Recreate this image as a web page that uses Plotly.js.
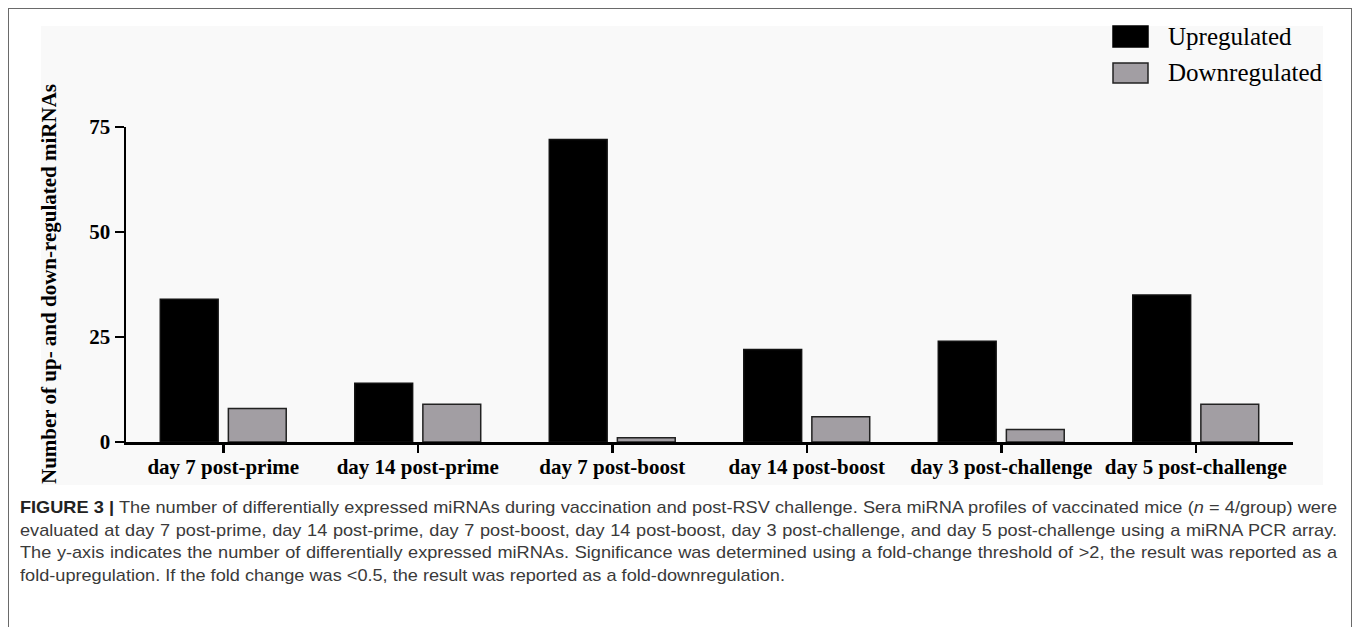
<!DOCTYPE html>
<html>
<head>
<meta charset="utf-8">
<script src="https://cdn.plot.ly/plotly-3.0.1.min.js"></script>
<style>
html,body{margin:0;padding:0;background:#ffffff;width:1357px;height:627px;overflow:hidden;}
#frame{position:absolute;left:8px;top:8px;width:1344px;height:660px;border:1.5px solid #6a6a6a;box-sizing:border-box;}
#bg{position:absolute;left:41px;top:26px;width:1282px;height:459px;background:#f9f9f9;}
#chart{position:absolute;left:20px;top:10px;width:1320px;height:480px;}
#cap{position:absolute;left:20px;top:497px;font-family:"Liberation Sans Narrow","Liberation Sans",Arial,sans-serif;font-size:17px;line-height:22.6px;color:#3a3a3a;transform-origin:0 0;}
#cap .j{text-align:justify;text-align-last:justify;}
#cap .l{text-align:left;}
#cap b{color:#222;}
</style>
</head>
<body>
<div id="frame"></div>
<div id="bg"></div>
<div id="chart"></div>
<div id="cap">
  <div class="j" id="l1"><b>FIGURE 3 |</b> The number of differentially expressed miRNAs during vaccination and post-RSV challenge. Sera miRNA profiles of vaccinated mice (<i>n</i> = 4/group) were</div>
  <div class="j" id="l2">evaluated at day 7 post-prime, day 14 post-prime, day 7 post-boost, day 14 post-boost, day 3 post-challenge, and day 5 post-challenge using a miRNA PCR array.</div>
  <div class="j" id="l3">The y-axis indicates the number of differentially expressed miRNAs. Significance was determined using a fold-change threshold of &gt;2, the result was reported as a</div>
  <div class="l" id="l4"><span id="l4s">fold-upregulation. If the fold change was &lt;0.5, the result was reported as a fold-downregulation.</span></div>
</div>
<script>
// ---- data ----
const categories = ['day 7 post-prime', 'day 14 post-prime', 'day 7 post-boost', 'day 14 post-boost', 'day 3 post-challenge', 'day 5 post-challenge'];
const upregulated = [34, 14, 72, 22, 24, 35];
const downregulated = [8, 9, 1, 6, 3, 9];
const seriesNames = ['Upregulated', 'Downregulated'];
const yTickVals = [0, 25, 50, 75];
const yTickText = ['0', '25', '50', '75'];
const yTitle = 'Number of up- and down-regulated miRNAs';

// ---- styling ----
const serif = '"Liberation Serif","Times New Roman",Times,serif';
const upColor = '#000000';
const downColor = '#a29ea3';
const W = 1320, H = 480;
const M = {l: 106, r: 47, t: 117, b: 48};
const plotW = W - M.l - M.r, plotH = H - M.t - M.b;
const px = v => (v - M.l) / plotW;          // div pixel -> paper x
const py = v => (H - M.b - v) / plotH;      // div pixel -> paper y

const traces = [
  {type: 'bar', name: seriesNames[0], x: categories, y: upregulated,
   marker: {color: upColor, line: {color: '#111', width: 1.5}}, hoverinfo: 'none'},
  {type: 'bar', name: seriesNames[1], x: categories, y: downregulated,
   marker: {color: downColor, line: {color: '#222', width: 1.5}}, hoverinfo: 'none'}
];

const legendSw = [
  {y0: 16, y1: 37, color: upColor, lc: '#000'},
  {y0: 53, y1: 73, color: downColor, lc: '#222'}
];
const shapes = legendSw.map(s => ({
  type: 'rect', xref: 'paper', yref: 'paper',
  x0: px(1093), x1: px(1128), y0: py(s.y1), y1: py(s.y0),
  fillcolor: s.color, line: {color: s.lc, width: 1.5}
}));

const annotations = [
  {text: yTitle, xref: 'paper', yref: 'paper', x: px(28.5), y: 0.5, xanchor: 'center', yanchor: 'middle',
   textangle: -90, showarrow: false, font: {family: serif, size: 21, color: '#000', weight: 'bold'}},
  {text: seriesNames[0], xref: 'paper', yref: 'paper', x: px(1146), y: py(27), xanchor: 'left', yanchor: 'middle',
   showarrow: false, font: {family: serif, size: 25, color: '#000'}},
  {text: seriesNames[1], xref: 'paper', yref: 'paper', x: px(1146), y: py(63), xanchor: 'left', yanchor: 'middle',
   showarrow: false, font: {family: serif, size: 25, color: '#000'}}
];

const tickFont = {family: serif, size: 21, color: '#000', weight: 'bold'};
const layout = {
  width: W, height: H,
  margin: {l: M.l, r: M.r, t: M.t, b: M.b, pad: 0},
  paper_bgcolor: 'rgba(0,0,0,0)', plot_bgcolor: 'rgba(0,0,0,0)',
  barmode: 'group', bargap: 0.30, bargroupgap: 0.15,
  showlegend: false,
  xaxis: {type: 'category', range: [-0.5, 5.5], showline: true, linecolor: '#000', linewidth: 2.5,
          ticks: 'outside', ticklen: 8, tickwidth: 2.5, tickcolor: '#000', showgrid: false, zeroline: false,
          tickfont: tickFont, ticklabelstandoff: -4, fixedrange: true},
  yaxis: {range: [0, 75], tickmode: 'array', tickvals: yTickVals, ticktext: yTickText,
          showline: true, linecolor: '#000', linewidth: 2.5,
          ticks: 'outside', ticklen: 9, tickwidth: 2.5, tickcolor: '#000', showgrid: false, zeroline: false,
          tickfont: tickFont, fixedrange: true},
  shapes: shapes,
  annotations: annotations
};

Plotly.newPlot('chart', traces, layout, {displayModeBar: false, staticPlot: true});

// ---- caption fitting ----
(function(){
  const cap = document.getElementById('cap');
  cap.style.width = '4000px';
  const w4 = document.getElementById('l4s').getBoundingClientRect().width;
  let s = 765 / w4;
  const tmp = document.createElement('span');
  tmp.style.whiteSpace = 'nowrap';
  let maxW = 0;
  ['l1','l2','l3'].forEach(id => {
    const el = document.getElementById(id);
    tmp.innerHTML = el.innerHTML;
    el.parentNode.appendChild(tmp);
    maxW = Math.max(maxW, tmp.getBoundingClientRect().width);
    el.parentNode.removeChild(tmp);
  });
  const target = 1317;
  if (maxW * s > target - 4) s = (target - 4) / maxW;
  cap.style.width = (target / s) + 'px';
  cap.style.transform = 'scaleX(' + s + ')';
})();
</script>
</body>
</html>
